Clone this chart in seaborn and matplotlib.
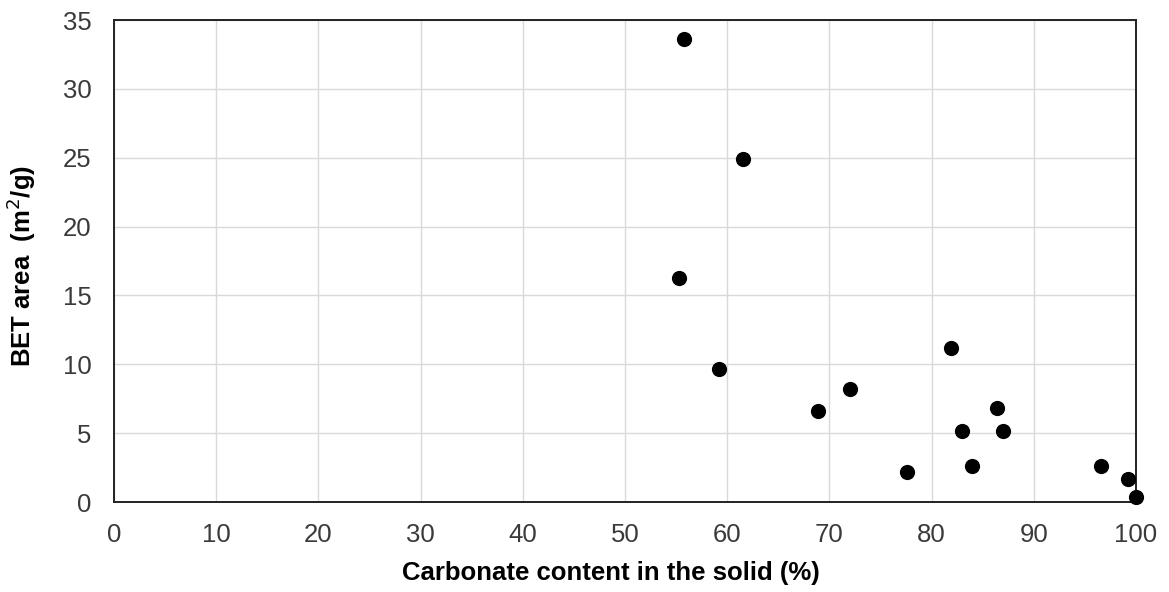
import matplotlib
matplotlib.use("Agg")
import matplotlib.pyplot as plt
import seaborn as sns
import pandas as pd

carbonate = [55.8, 61.5, 55.3, 59.2, 68.9, 72.0, 77.6, 81.9, 83.0, 84.0, 86.4, 87.0, 96.6, 99.2, 100.0]
bet_area = [33.6, 24.9, 16.3, 9.64, 6.63, 8.18, 2.18, 11.2, 5.16, 2.6, 6.85, 5.18, 2.6, 1.7, 0.39]
x_ticks = list(range(0, 101, 10))
y_ticks = list(range(0, 36, 5))

df = pd.DataFrame({"carbonate": carbonate, "bet": bet_area})

sns.set_style("whitegrid")
plt.rcParams["font.family"] = ["Liberation Sans", "DejaVu Sans"]

fig = plt.figure(figsize=(11.69, 5.92), dpi=100)
ax = fig.add_axes([114 / 1169, 90 / 592, 1022 / 1169, 482 / 592])

sns.scatterplot(data=df, x="carbonate", y="bet", ax=ax, color="black",
                s=120, edgecolor="black", linewidth=0, zorder=3, clip_on=False)

ax.set_xlim(0, 100)
ax.set_ylim(0, 35)
ax.set_xticks(x_ticks)
ax.set_yticks(y_ticks)
ax.grid(True, color="#d9d9d9", linewidth=1.0)
for sp in ax.spines.values():
    sp.set_color("#222222")
    sp.set_linewidth(1.4)
ax.tick_params(axis="both", length=0, labelsize=18.5, labelcolor="#3a3a3a")
ax.tick_params(axis="x", pad=15)
ax.tick_params(axis="y", pad=16)

ax.set_xlabel("Carbonate content in the solid (%)", fontsize=18.5, fontweight="bold", color="black")
ax.set_ylabel("BET area  (m$^2$/g)", fontsize=18.5, fontweight="bold", color="black")
ax.xaxis.set_label_coords(0.486, -0.122)
ax.yaxis.set_label_coords(-0.074, 0.49)

fig.savefig("out.png", dpi=100)
